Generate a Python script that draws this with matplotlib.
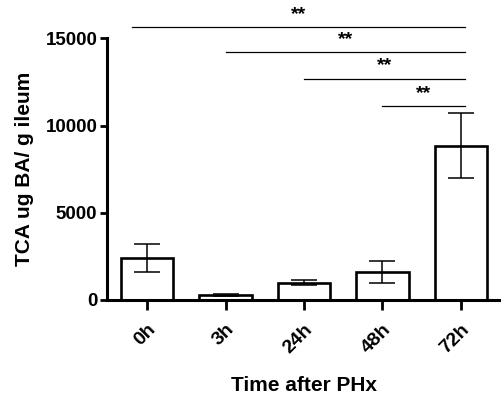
import matplotlib
matplotlib.use("Agg")
import matplotlib.pyplot as plt
import numpy as np

# TCA in ileum after partial hepatectomy
groups = ['0h', '3h', '24h', '48h', '72h']
tca_mean = [2400, 290, 1000, 1620, 8850]
tca_sem = [800, 60, 140, 630, 1850]

# significance brackets: (start group, end group, y level, label)
sig_start = [0, 1, 2, 3]
sig_end = [4, 4, 4, 4]
sig_level = [15630, 14200, 12700, 11100]
sig_label = ['**', '**', '**', '**']

plt.rcParams['font.family'] = ['Liberation Sans', 'DejaVu Sans']
plt.rcParams['font.weight'] = 'bold'

fig = plt.figure(figsize=(5.01, 4.03), dpi=100)
ax = fig.add_axes([0.2136, 0.2556, 0.7864, 0.649])

x = np.arange(len(groups))
ax.bar(x, tca_mean, width=0.67, color='white', edgecolor='black', linewidth=1.9, zorder=2)
ax.errorbar(x, tca_mean, yerr=tca_sem, fmt='none', ecolor='black',
            elinewidth=1.1, capsize=9.5, capthick=1.1, zorder=3)

for s, e, lvl, lab in zip(sig_start, sig_end, sig_level, sig_label):
    x0 = s - 0.19 if s == 0 else s
    ax.plot([x0, e + 0.05], [lvl, lvl], color='black', lw=0.9, clip_on=False)
    ax.text((x0 + e + 0.05) / 2, lvl + 250, lab, ha='center', va='bottom',
            fontsize=14, fontweight='bold', clip_on=False)

ax.set_xlim(-0.51, 4.51)
ax.set_ylim(0, 15000)
ax.set_yticks([0, 5000, 10000, 15000])
ax.set_xticks(x)
ax.set_xticklabels(groups, rotation=45, ha='right', rotation_mode='anchor')

for side in ['top', 'right']:
    ax.spines[side].set_visible(False)
for side in ['left', 'bottom']:
    ax.spines[side].set_linewidth(2.2)

ax.tick_params(axis='y', direction='out', length=5, width=2, labelsize=13.5, pad=2)
ax.tick_params(axis='x', direction='out', length=7, width=2, labelsize=14, pad=8)
for lbl in ax.get_xticklabels() + ax.get_yticklabels():
    lbl.set_fontweight('bold')

ax.set_ylabel('TCA ug BA/ g ileum', fontsize=15, fontweight='bold', labelpad=8)
ax.set_xlabel('Time after PHx', fontsize=15, fontweight='bold', labelpad=14)

fig.savefig('out.png', dpi=100)
